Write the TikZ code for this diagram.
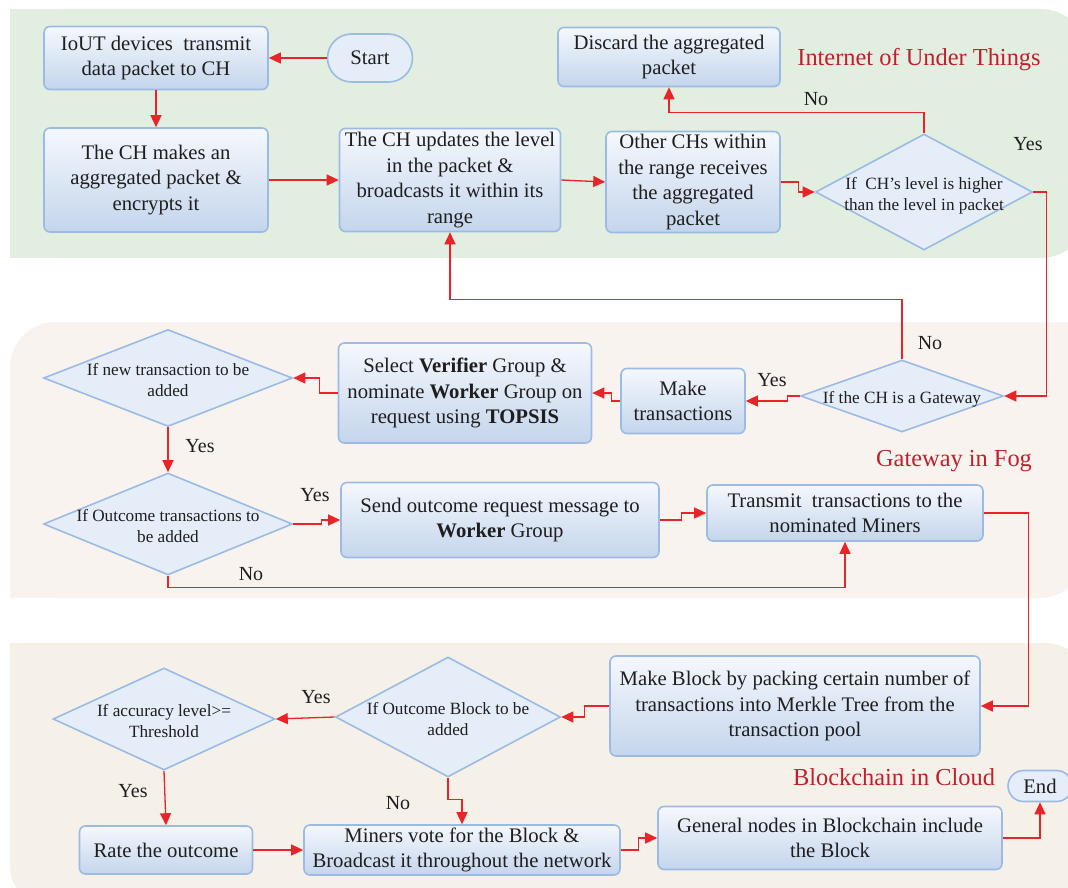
\documentclass[tikz,border=0pt]{standalone}
\usepackage{fontspec}
\setmainfont{Liberation Serif}
\usetikzlibrary{shapes.geometric,shapes.misc,arrows.meta}

\definecolor{bgiot}{RGB}{225,238,224}
\definecolor{bgfog}{RGB}{249,243,240}
\definecolor{bgcloud}{RGB}{245,241,233}
\definecolor{boxline}{RGB}{155,187,229}
\definecolor{boxtop}{RGB}{245,248,253}
\definecolor{boxbot}{RGB}{196,213,236}
\definecolor{decfill}{RGB}{229,237,249}
\definecolor{arrred}{RGB}{232,36,40}
\definecolor{regred}{RGB}{192,32,44}
\definecolor{txt}{RGB}{30,30,30}

\newcommand{\bxfont}{\fontsize{20.7}{25.5}\selectfont}
\newcommand{\dcfont}{\fontsize{17.2}{21}\selectfont}
\newcommand{\lbfont}{\fontsize{20}{22}\selectfont}
\newcommand{\rgfont}{\fontsize{24.4}{26}\selectfont}
% centred multi-line text that does not enlarge the diamond
\newcommand{\dlines}[1]{\makebox[0pt]{\smash{\raisebox{-0.45em}{\begin{tabular}{@{}c@{}}#1\end{tabular}}}}}

\tikzset{
  proc/.style={rectangle, rounded corners=6pt, draw=boxline, line width=1.6pt,
    top color=boxtop, bottom color=boxbot, align=center, inner sep=2pt,
    font=\bxfont, text=txt},
  term/.style={rounded rectangle, draw=boxline, line width=1.6pt, fill=decfill,
    inner sep=0pt, font=\bxfont, text=txt},
  dec/.style={diamond, draw=boxline, line width=1.6pt, fill=decfill,
    inner sep=0pt, font=\dcfont, text=txt},
  arr/.style={draw=arrred, line width=1.3pt, -{Triangle[length=12pt,width=11pt]}},
  lbl/.style={font=\lbfont, text=txt},
  region/.style={font=\rgfont, text=regred}
}

\begin{document}
\begin{tikzpicture}[x=1pt,y=-1pt]
\useasboundingbox (0,0) rectangle (1068,888);

% ---- background bands ----
\fill[bgiot, rounded corners=50pt] (10,9) rectangle (1090,258);
\fill[bgiot] (10,9) rectangle (80,258);
\fill[bgfog, rounded corners=45pt] (10,322) rectangle (1085,598);
\fill[bgfog] (900,322) rectangle (1085,380);
\fill[bgfog] (10,540) rectangle (80,598);
\fill[bgcloud, rounded corners=45pt] (10,643) rectangle (1090,910);
\fill[bgcloud] (10,643) rectangle (80,700);

% ---- Internet of Under Things ----
\node[term, minimum width=85pt, minimum height=48pt] (start) at (370,58) {Start};
\node[proc, minimum width=224pt, minimum height=63pt] (iot) at (156,58)
  {IoUT devices\ \ transmit\\data packet to CH};
\node[proc, minimum width=224pt, minimum height=104pt] (ch1) at (156,180)
  {The CH makes an\\aggregated packet \&\\encrypts it};
\node[proc, minimum width=221pt, minimum height=103pt] (ch2) at (450,180)
  {The CH updates the level\\in the packet \&\\broadcasts it within its\\range};
\node[proc, minimum width=174pt, minimum height=101pt] (other) at (693,182)
  {Other CHs within\\the range receives\\the aggregated\\packet};
\node[proc, minimum width=222pt, minimum height=59pt] (discard) at (669,57)
  {Discard the aggregated\\packet};
\node[dec, minimum width=217pt, minimum height=116pt] (d1) at (924,192)
  {\dlines{If\ \ CH’s level is higher\\than the level in packet}};
\node[region] (rIoT) at (919,60) {Internet of Under Things};
\node[lbl] (no1) at (816,99) {No};
\node[lbl] (yes1) at (1028,144) {Yes};

% ---- Gateway in Fog ----
\node[dec, minimum width=203pt, minimum height=72pt] (gw) at (902,396)
  {\dlines{If the CH is a Gateway}};
\node[proc, minimum width=124pt, minimum height=65pt] (make) at (683,401)
  {Make\\transactions};
\node[proc, minimum width=253pt, minimum height=100pt] (select) at (465,393)
  {Select \textbf{Verifier} Group \&\\nominate \textbf{Worker} Group on\\request using \textbf{TOPSIS}};
\node[dec, minimum width=249pt, minimum height=97pt] (d2) at (168,378)
  {\dlines{If new transaction to be\\added}};
\node[dec, minimum width=249pt, minimum height=102pt] (d3) at (168,524)
  {\dlines{If Outcome transactions to\\be added}};
\node[proc, minimum width=318pt, minimum height=75pt] (send) at (500,520)
  {Send outcome request message to\\\textbf{Worker} Group};
\node[proc, minimum width=276pt, minimum height=56pt] (transmit) at (845,513)
  {Transmit\ \ transactions to the\\nominated Miners};
\node[region] (rFog) at (954,461) {Gateway in Fog};
\node[lbl] (no2) at (930,343) {No};
\node[lbl] (yes2) at (772,380) {Yes};
\node[lbl] (yes3) at (200,446) {Yes};
\node[lbl] (yes4) at (315,495) {Yes};
\node[lbl] (no3) at (251,574) {No};

% ---- Blockchain in Cloud ----
\node[proc, minimum width=370pt, minimum height=100pt] (block) at (795,706)
  {Make Block by packing certain number of\\transactions into Merkle Tree from the\\transaction pool};
\node[dec, minimum width=225pt, minimum height=120pt] (d4) at (448,717)
  {\dlines{If Outcome Block to be\\added}};
\node[dec, minimum width=222pt, minimum height=102pt] (d5) at (164,719)
  {\dlines{If accuracy level>=\\Threshold}};
\node[proc, minimum width=173pt, minimum height=48pt] (rate) at (166,850)
  {Rate the outcome};
\node[proc, minimum width=316pt, minimum height=50pt] (miners) at (462,850)
  {Miners vote for the Block \&\\Broadcast it throughout the network};
\node[proc, minimum width=344pt, minimum height=63pt] (general) at (830,838)
  {General nodes in Blockchain include\\the Block};
\node[term, minimum width=64pt, minimum height=31pt] (end) at (1040,786) {End};
\node[region] (rCloud) at (894,777) {Blockchain in Cloud};
\node[lbl] (yes5) at (316,697) {Yes};
\node[lbl] (yes6) at (133,791) {Yes};
\node[lbl] (no4) at (398,803) {No};

% ---- connectors ----
\draw[arr] (start.west) -- (iot.east);
\draw[arr] (iot.south) -- (ch1.north);
\draw[arr] (ch1.east) -- (ch2.west);
\draw[arr] (ch2.east) -- (other.west);
\draw[arr] (other.east) -- ++(18,0) |- (d1.west);
\draw[arr] (d1.north) -- ++(0,-21) -| (discard.south);
\draw[arr] (d1.east) -- ++(13,0) |- (gw.east);
\draw[arr] (gw.north) -- ++(0,-60) -| (ch2.south);
\draw[arr] (gw.west) -- ++(-12,0) |- (make.east);
\draw[arr] (make.west) -- ++(-9,0) |- (select.east);
\draw[arr] (select.west) -- ++(-18,0) |- (d2.east);
\draw[arr] (d2.south) -- (d3.north);
\draw[arr] (d3.east) -- ++(28,0) |- (send.west);
\draw[arr] (send.east) -- ++(22,0) |- (transmit.west);
\draw[arr] (d3.south) -- ++(0,12) -| (transmit.south);
\draw[arr] (transmit.east) -- ++(45,0) |- (block.east);
\draw[arr] (block.west) -- ++(-25,0) |- (d4.east);
\draw[arr] (d4.west) -- (d5.east);
\draw[arr] (d5.south) -- (rate.north);
\draw[arr] (d4.south) -- ++(0,22) -| (miners.north);
\draw[arr] (rate.east) -- (miners.west);
\draw[arr] (miners.east) -- ++(18,0) |- (general.west);
\draw[arr] (general.east) -| (end.south);
\end{tikzpicture}
\end{document}
